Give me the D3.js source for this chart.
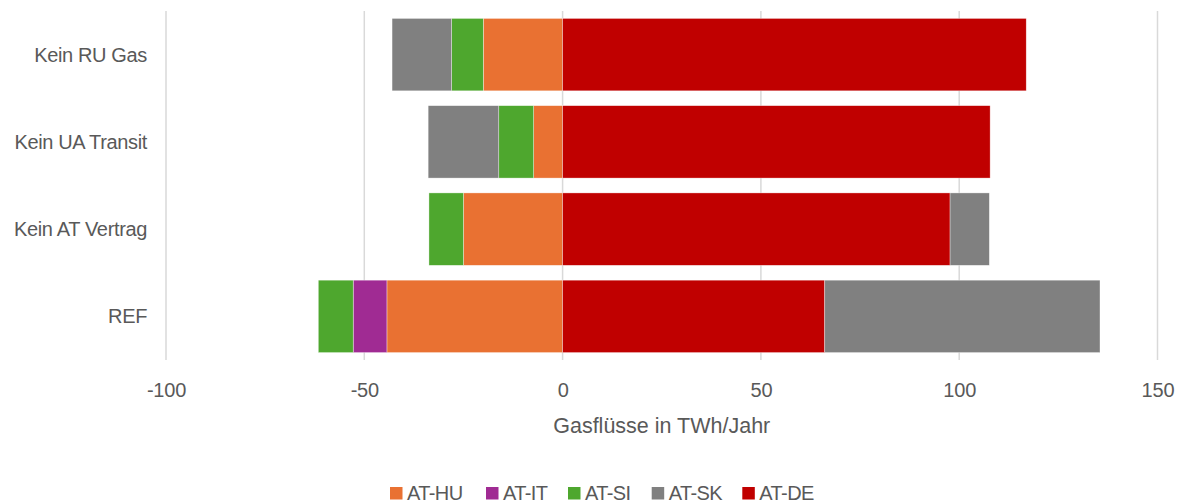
<!DOCTYPE html>
<html>
<head>
<meta charset="utf-8">
<script src="https://cdn.jsdelivr.net/npm/d3@7"></script>
<style>
  html, body { margin: 0; padding: 0; background: #fff; }
  svg { display: block; }
  text { font-family: "Liberation Sans", Arial, sans-serif; fill: #595959; }
</style>
</head>
<body>
<svg id="chart" width="1180" height="503"></svg>
<script>
const categories = ["Kein RU Gas", "Kein UA Transit", "Kein AT Vertrag", "REF"];
const seriesNames = ["AT-HU", "AT-IT", "AT-SI", "AT-SK", "AT-DE"];
const stackOrder = ["AT-HU", "AT-IT", "AT-SI", "AT-DE", "AT-SK"];
const valuesHU = [-20.0, -7.3, -25.0, -44.3];
const valuesIT = [0, 0, 0, -8.5];
const valuesSI = [-8.0, -8.8, -8.7, -8.8];
const valuesSK = [-15.0, -17.8, 9.9, 69.4];
const valuesDE = [116.9, 107.8, 97.7, 66.1];
const xTicks = [-100, -50, 0, 50, 100, 150];
const xTickLabels = ["-100", "-50", "0", "50", "100", "150"];
const xTitle = "Gasflüsse in TWh/Jahr";
const colors = { "AT-HU": "#E97132", "AT-IT": "#A02B93", "AT-SI": "#4EA72E", "AT-SK": "#808080", "AT-DE": "#C00000" };

const seriesValues = { "AT-HU": valuesHU, "AT-IT": valuesIT, "AT-SI": valuesSI, "AT-SK": valuesSK, "AT-DE": valuesDE };
const rows = categories.map((c, i) => {
  const r = { category: c };
  seriesNames.forEach(s => r[s] = seriesValues[s][i]);
  return r;
});

const svg = d3.select("#chart");
const plotLeft = 166, plotRight = 1157.5, plotTop = 11, plotBottom = 360;

const x = d3.scaleLinear().domain([-100, 150]).range([plotLeft, plotRight]);
const y = d3.scaleBand().domain(categories).range([plotTop, plotBottom]).paddingInner(0.17).paddingOuter(0.085);

// gridlines
svg.append("g").selectAll("line").data(xTicks).join("line")
  .attr("x1", d => x(d)).attr("x2", d => x(d))
  .attr("y1", plotTop).attr("y2", plotBottom)
  .attr("stroke", "#D9D9D9").attr("stroke-width", 1.5);

// stacked bars
const stack = d3.stack().keys(stackOrder).offset(d3.stackOffsetDiverging);
const stacked = stack(rows);
svg.append("g").selectAll("g").data(stacked).join("g")
  .attr("fill", d => colors[d.key])
  .selectAll("rect").data(d => d).join("rect")
  .attr("x", d => x(Math.min(d[0], d[1])))
  .attr("width", d => Math.abs(x(d[1]) - x(d[0])))
  .attr("y", d => y(d.data.category))
  .attr("height", y.bandwidth())
  .attr("stroke", "#fff").attr("stroke-width", 0.6)
  .attr("stroke-opacity", d => Math.abs(d[1] - d[0]) > 0 ? 0.6 : 0);

// category labels
svg.append("g").selectAll("text").data(categories).join("text")
  .attr("x", 147)
  .attr("y", d => y(d) + y.bandwidth() / 2 + 7)
  .attr("text-anchor", "end")
  .attr("font-size", 20)
  .attr("letter-spacing", -0.35)
  .text(d => d);

// x axis tick labels
const xAxis = d3.axisBottom(x).tickValues(xTicks).tickSize(0).tickPadding(0)
  .tickFormat((d, i) => xTickLabels[i]);
const ax = svg.append("g").attr("transform", `translate(0,${plotBottom})`).call(xAxis);
ax.select(".domain").remove();
ax.selectAll("text")
  .attr("y", 37).attr("dy", null)
  .attr("font-size", 20)
  .attr("font-family", '"Liberation Sans", Arial, sans-serif')
  .attr("fill", "#595959")
  .attr("letter-spacing", -0.2);

// axis title
svg.append("text")
  .attr("x", (plotLeft + plotRight) / 2).attr("y", 433)
  .attr("text-anchor", "middle")
  .attr("font-size", 21.5)
  .attr("letter-spacing", 0)
  .text(xTitle);

// legend
const legendX = [390, 486, 568, 651.7, 742.3];
const lg = svg.append("g").selectAll("g").data(seriesNames).join("g")
  .attr("transform", (d, i) => `translate(${legendX[i]},0)`);
lg.append("rect").attr("x", 0).attr("y", 487).attr("width", 12.5).attr("height", 12.5)
  .attr("fill", d => colors[d]);
lg.append("text").attr("x", 17).attr("y", 500)
  .attr("font-size", 20).attr("letter-spacing", -0.6)
  .text(d => d);
</script>
</body>
</html>
